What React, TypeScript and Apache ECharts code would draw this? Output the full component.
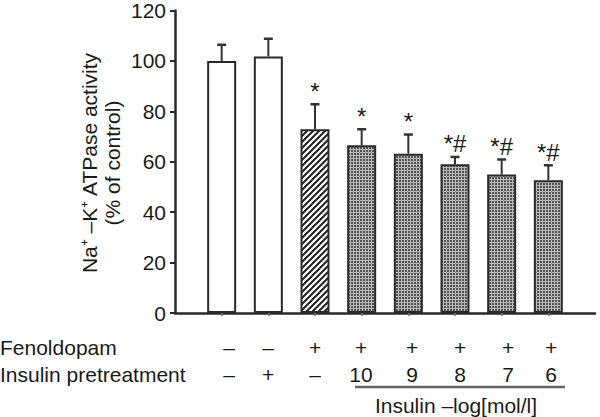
import React, { useEffect, useRef } from "react";
import * as echarts from "echarts";

const categories = ["Control", "Insulin", "Fenoldopam", "F+Ins 10", "F+Ins 9", "F+Ins 8", "F+Ins 7", "F+Ins 6"];
const activity = [100, 101.8, 72.9, 66.5, 63.2, 59.0, 54.9, 52.7];
const errors = [6.4, 7.0, 9.9, 6.4, 7.6, 2.9, 6.0, 5.9];
const marks = ["", "", "*", "*", "*", "*#", "*#", "*#"];
const fenoldopamRow = ["–", "–", "+", "+", "+", "+", "+", "+"];
const insulinRow = ["–", "+", "–", "10", "9", "8", "7", "6"];
const fillKinds = ["open", "open", "hatch", "grid", "grid", "grid", "grid", "grid"];
const yMin = 0;
const yMax = 120;
const yInterval = 20;

// layout (pixels) for the treatment table below the chart
const tableCols = [229, 268, 315, 361, 412, 460, 508, 551];
const FONT = '"Liberation Sans", Arial, Helvetica, sans-serif';
const INK = "#1a1a1a";

function makeHatch(): string {
  const c = document.createElement("canvas");
  c.width = 6;
  c.height = 6;
  const g = c.getContext("2d")!;
  g.fillStyle = "#ffffff";
  g.fillRect(0, 0, 6, 6);
  g.strokeStyle = "#222222";
  g.lineWidth = 2;
  g.beginPath();
  g.moveTo(-1, 7);
  g.lineTo(7, -1);
  g.moveTo(-4, 4);
  g.lineTo(4, -4);
  g.moveTo(2, 10);
  g.lineTo(10, 2);
  g.stroke();
  return c.toDataURL();
}

function makeGrid(): string {
  const c = document.createElement("canvas");
  c.width = 3;
  c.height = 3;
  const g = c.getContext("2d")!;
  g.fillStyle = "#555555";
  g.fillRect(0, 0, 3, 3);
  g.fillStyle = "#b8b8b8";
  g.fillRect(2, 0, 1, 3);
  g.fillRect(0, 2, 3, 1);
  return c.toDataURL();
}

export default function App() {
  const ref = useRef<HTMLDivElement>(null);
  useEffect(() => {
    if (!ref.current) return;
    const chart = echarts.init(ref.current, undefined, { renderer: "svg" });
    const hatch = makeHatch();
    const grid = makeGrid();
    const fillFor = (k: string): any =>
      k === "open"
        ? "#ffffff"
        : { image: k === "hatch" ? hatch : grid, repeat: "repeat" };

    const barData = categories.map((c, i) => ({
      name: c,
      value: [i + 1, activity[i]],
      itemStyle: { color: fillFor(fillKinds[i]) },
    }));
    const errData = categories.map((c, i) => [i + 1, activity[i], errors[i]]);

    const graphics: any[] = [];
    const rotText = (t: string, x: number, y: number) => ({
      type: "text",
      x,
      y,
      rotation: Math.PI / 2,
      style: {
        text: t,
        font: `21px ${FONT}`,
        fill: INK,
        align: "center",
        verticalAlign: "middle",
        textAlign: "center",
        textVerticalAlign: "middle",
      },
    });
    graphics.push(rotText("Na⁺ –K⁺ ATPase activity", 89, 163));
    graphics.push(rotText("(% of control)", 112, 163));
    const rowText = (t: string, x: number, y: number, align: string) => ({
      type: "text",
      x,
      y,
      style: {
        text: t,
        font: `21px ${FONT}`,
        fill: INK,
        align,
        verticalAlign: "middle",
        textAlign: align,
        textVerticalAlign: "middle",
      },
    });
    graphics.push(rowText("Fenoldopam", 0, 347.5, "left"));
    graphics.push(rowText("Insulin pretreatment", 0, 374.5, "left"));
    fenoldopamRow.forEach((t, i) => graphics.push(rowText(t, tableCols[i], 347.5, "center")));
    insulinRow.forEach((t, i) => graphics.push(rowText(t, tableCols[i], 374.5, "center")));
    graphics.push({
      type: "line",
      shape: { x1: 355, y1: 387, x2: 565, y2: 387 },
      style: { stroke: "#666666", lineWidth: 2.5 },
    });
    graphics.push(rowText("Insulin –log[mol/l]", 456, 405, "center"));

    chart.setOption({
      animation: false,
      backgroundColor: "#ffffff",
      grid: { left: 175, right: 5, top: 10, bottom: 104, containLabel: false },
      xAxis: {
        type: "value",
        min: 0,
        max: categories.length + 1,
        interval: 1,
        axisLine: { show: true, onZero: false, lineStyle: { color: "#2a2a2a", width: 2.5 } },
        axisTick: {
          show: true,
          customValues: categories.map((c, i) => i + 1),
          length: 3,
          lineStyle: { color: "#777777", width: 1.5 },
        },
        axisLabel: { show: false },
        splitLine: { show: false },
      },
      yAxis: {
        type: "value",
        min: yMin,
        max: yMax,
        interval: yInterval,
        axisLine: { show: true, lineStyle: { color: "#2a2a2a", width: 2.5 } },
        axisTick: { show: true, length: 5, lineStyle: { color: "#2a2a2a", width: 2 } },
        axisLabel: { fontSize: 21, fontFamily: FONT, color: INK, margin: 9 },
        splitLine: { show: false },
      },
      series: [
        {
          type: "bar",
          data: barData,
          barWidth: 29,
          itemStyle: { borderColor: "#2a2a2a", borderWidth: 2 },
          z: 2,
        },
        {
          type: "custom",
          data: errData,
          z: 3,
          renderItem: (params: any, api: any) => {
            const x = api.value(0);
            const m = api.value(1);
            const e = api.value(2);
            const p0 = api.coord([x, m]);
            const p1 = api.coord([x, m + e]);
            const cap = 4.5;
            const children: any[] = [
              {
                type: "line",
                shape: { x1: p0[0], y1: p0[1], x2: p1[0], y2: p1[1] },
                style: { stroke: "#333333", lineWidth: 2 },
              },
              {
                type: "line",
                shape: { x1: p1[0] - cap, y1: p1[1], x2: p1[0] + cap, y2: p1[1] },
                style: { stroke: "#333333", lineWidth: 2.5 },
              },
            ];
            const mk = marks[params.dataIndex];
            if (mk) {
              children.push({
                type: "text",
                style: {
                  text: mk,
                  x: p1[0],
                  y: p1[1] - 1,
                  font: `24px ${FONT}`,
                  fill: INK,
                  align: "center",
                  verticalAlign: "bottom",
                  textAlign: "center",
                  textVerticalAlign: "bottom",
                },
              });
            }
            return { type: "group", children };
          },
        },
      ],
      graphic: graphics,
    });
    return () => chart.dispose();
  }, []);
  return (
    <div
      ref={ref}
      style={{ position: "fixed", left: 0, top: 0, width: 600, height: 417, background: "#fff" }}
    />
  );
}
